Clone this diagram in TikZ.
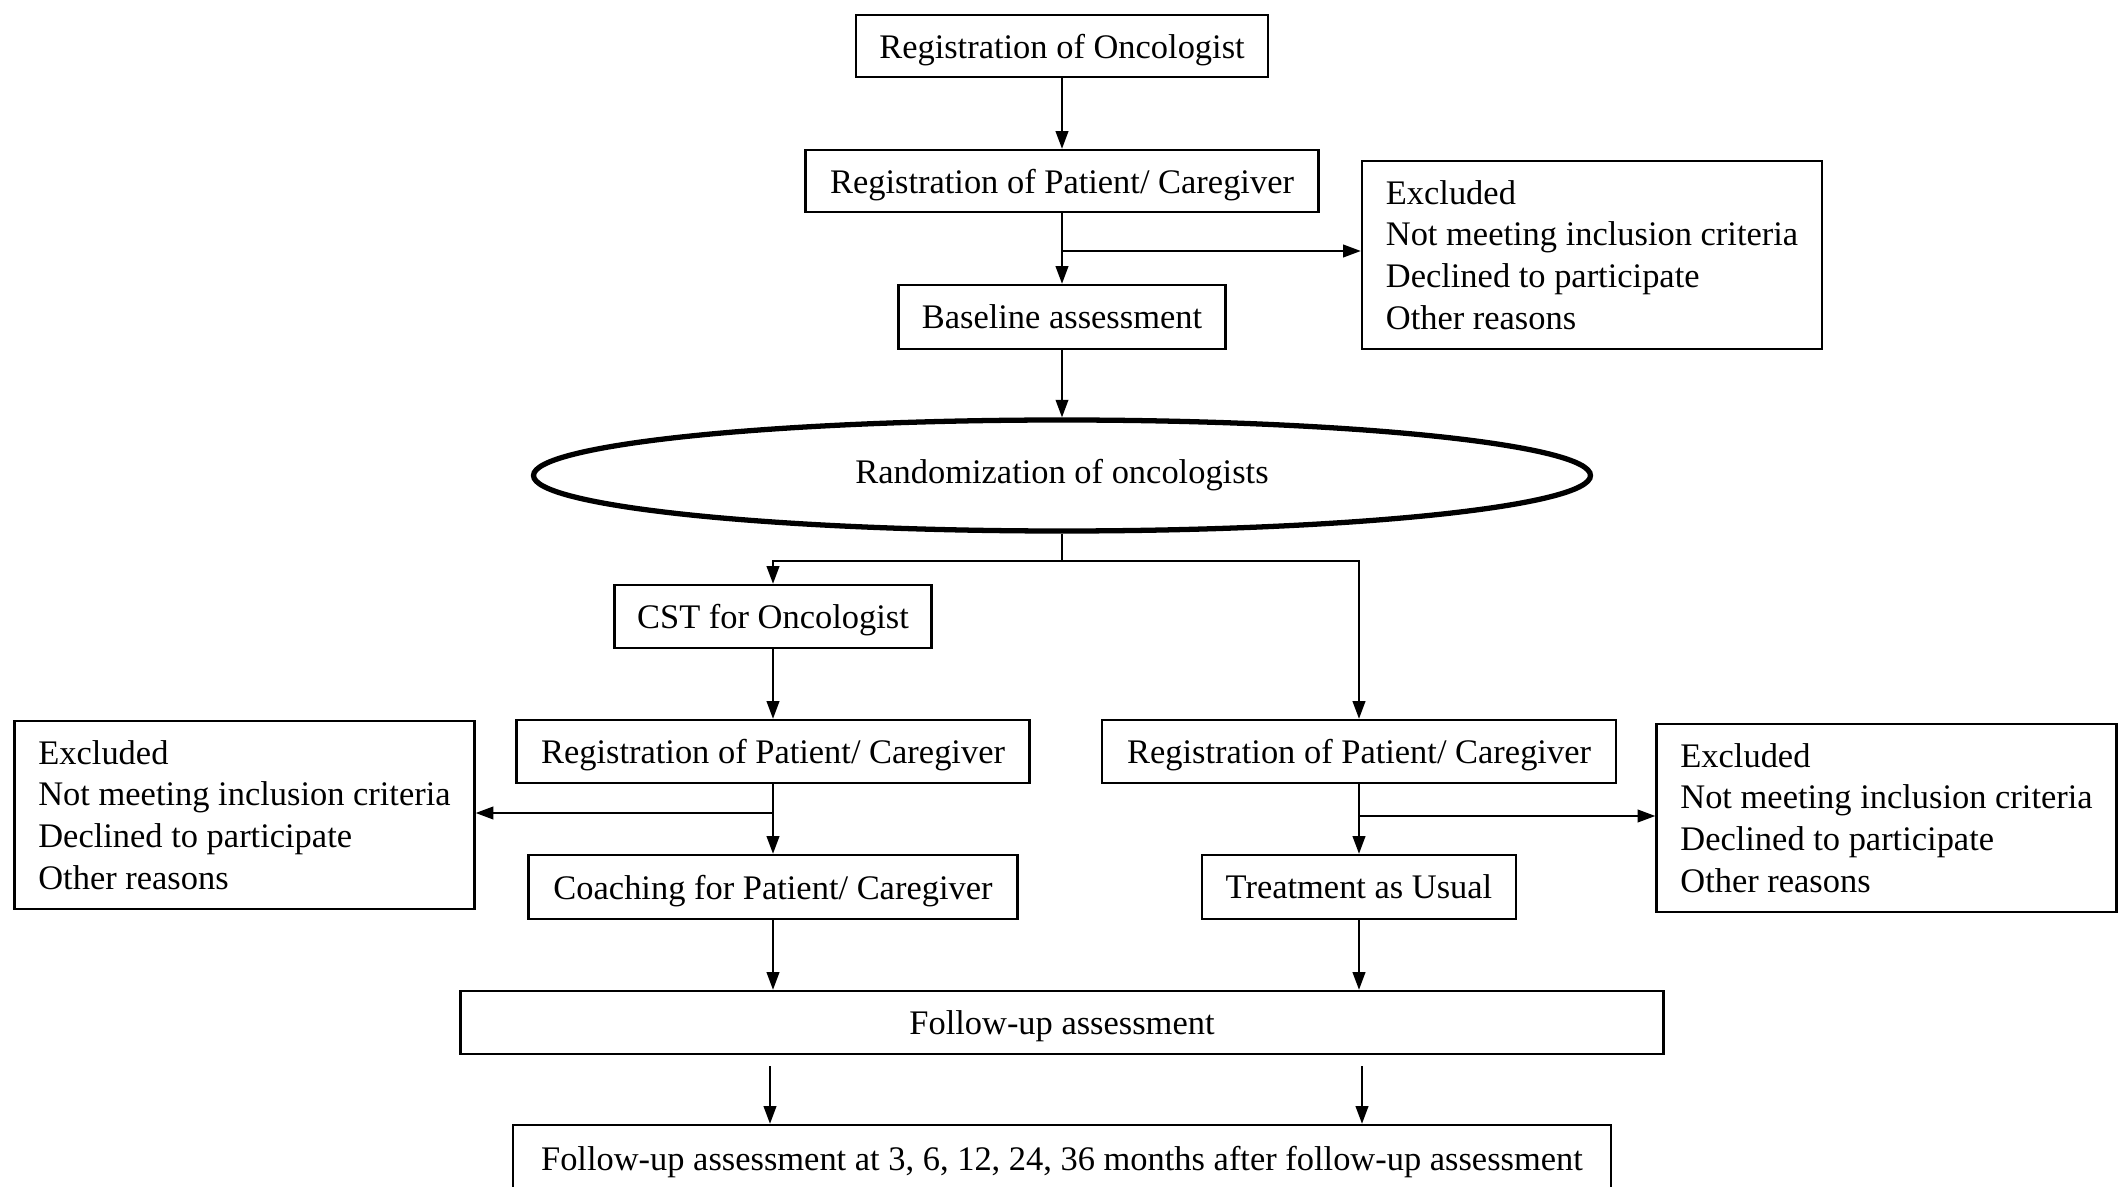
\documentclass[tikz,border=0pt]{standalone}
\usepackage{fontspec}
\setmainfont{Liberation Serif}
\usetikzlibrary{shapes.geometric, arrows.meta, calc}

\tikzset{
    box/.style={draw, line width=0.7pt, inner sep=0pt,
        font=\fontsize{9.8}{11.9}\selectfont, minimum height=0.63cm},
    onebox/.style={box, text depth=0pt},
    exclbox/.style={box, align=left, minimum width=4.6cm, minimum height=1.88cm},
    arr/.style={line width=0.5pt, -{Triangle[length=5pt, width=3.6pt]}},
    plain/.style={line width=0.5pt}
}

\begin{document}
\begin{tikzpicture}
    \useasboundingbox (0,0) rectangle (21.18,-11.87);

    % Oncologist level
    \node[onebox, minimum width=4.12cm, minimum height=0.62cm] (regonc) at (10.62,-0.46) {Registration of Oncologist};
    \node[onebox, minimum width=5.13cm, minimum height=0.62cm] (regpc) at (10.62,-1.81) {Registration of Patient/ Caregiver};
    \node[onebox, minimum width=3.27cm, minimum height=0.64cm] (base) at (10.62,-3.17) {Baseline assessment};
    \node[exclbox] (exclA) at (15.92,-2.55) {Excluded\\Not meeting inclusion criteria\\Declined to participate\\Other reasons};
    \node[ellipse, draw, line width=1.5pt, minimum width=10.57cm, minimum height=1.11cm,
        font=\fontsize{9.8}{11.9}\selectfont] (rand) at (10.62,-4.755) {Randomization of oncologists};

    % Two arms
    \node[onebox, minimum width=3.17cm] (cst) at (7.73,-6.165) {CST for Oncologist};
    \node[onebox, minimum width=5.13cm] (regpcL) at (7.73,-7.515) {Registration of Patient/ Caregiver};
    \node[onebox, minimum width=5.14cm] (regpcR) at (13.59,-7.515) {Registration of Patient/ Caregiver};
    \node[exclbox] (exclL) at (2.445,-8.15) {Excluded\\Not meeting inclusion criteria\\Declined to participate\\Other reasons};
    \node[exclbox] (exclR) at (18.865,-8.18) {Excluded\\Not meeting inclusion criteria\\Declined to participate\\Other reasons};
    \node[onebox, minimum width=4.89cm, minimum height=0.64cm] (coach) at (7.73,-8.87) {Coaching for Patient/ Caregiver};
    \node[onebox, minimum width=3.14cm, minimum height=0.64cm] (tau) at (13.59,-8.87) {Treatment as Usual};

    % Follow-up
    \node[onebox, minimum width=12.03cm] (follow) at (10.62,-10.225) {Follow-up assessment};
    \node[onebox, minimum width=10.98cm, minimum height=0.66cm] (last) at (10.62,-11.58) {Follow-up assessment at 3, 6, 12, 24, 36 months after follow-up assessment};

    \coordinate (jA) at (10.62,-2.51);
    \coordinate (jL) at (7.73,-8.13);
    \coordinate (jR) at (13.59,-8.16);
    \coordinate (fL) at (7.70,-10.66);
    \coordinate (fR) at (13.62,-10.66);

    \draw[arr] (regonc) -- (regpc);
    \draw[arr] (regpc) -- (base);
    \draw[arr] (jA) -- (jA -| exclA.west);
    \draw[arr] (base) -- (rand);

    \draw[plain] (rand.south) -- ++(0,-0.27) coordinate (split);
    \draw[arr] (split) -| (cst);
    \draw[arr] (split) -| (regpcR);

    \draw[arr] (cst) -- (regpcL);
    \draw[arr] (regpcL) -- (coach);
    \draw[arr] (jL) -- (jL -| exclL.east);
    \draw[arr] (regpcR) -- (tau);
    \draw[arr] (jR) -- (jR -| exclR.west);

    \draw[arr] (coach) -- (coach |- follow.north);
    \draw[arr] (tau) -- (tau |- follow.north);
    \draw[arr] (fL) -- (fL |- last.north);
    \draw[arr] (fR) -- (fR |- last.north);
\end{tikzpicture}
\end{document}
